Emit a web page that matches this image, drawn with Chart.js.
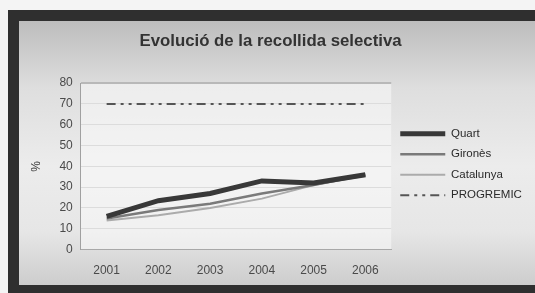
<!DOCTYPE html>
<html lang="ca">
<head>
  <meta charset="UTF-8">
  <title>Evolució de la recollida selectiva</title>
  <script src="https://cdn.jsdelivr.net/npm/chart.js"></script>
  <style>
    body {
      margin: 0;
      width: 535px;
      height: 293px;
      overflow: hidden;
      background: #f4f4f4;
      font-family: "Liberation Sans", Arial, sans-serif;
    }

    #frame {
      position: absolute;
      left: 8px;
      top: 10px;
      width: 600px;
      height: 300px;
      background: #2f2f2f;
    }

    #inner {
      position: absolute;
      left: 11px;
      top: 11px;
      width: 600px;
      height: 264px;
      background: linear-gradient(to bottom, #bdbdbd 0%, #dedede 25%, #ececec 55%, #e6e6e6 80%, #cdcdcd 100%);
      overflow: hidden;
    }

    #chart-box {
      position: absolute;
      left: 0;
      top: 0;
      width: 540px;
      height: 279px;
    }
  </style>
</head>
<body>
  <div id="frame">
    <div id="inner">
      <div id="chart-box">
        <canvas id="recollida"></canvas>
      </div>
    </div>
  </div>
  <script>
    const anys = ["2001", "2002", "2003", "2004", "2005", "2006"];
    const quart = [16, 23.5, 27, 33, 32, 36];
    const girones = [15, 19, 22, 27, 31, 36];
    const catalunya = [14, 16.5, 20, 24.5, 31, 35.5];
    const progremic = [70, 70, 70, 70, 70, 70];

    // fons una mica més clar dins l'àrea del gràfic
    const fonsArea = {
      id: "fonsArea",
      beforeDraw(chart) {
        const { ctx, chartArea } = chart;
        if (!chartArea) return;
        ctx.save();
        ctx.fillStyle = "rgba(250, 250, 250, 0.55)";
        ctx.fillRect(chartArea.left, chartArea.top, chartArea.right - chartArea.left, chartArea.bottom - chartArea.top);
        ctx.restore();
        // la llegenda retalla el text a la seva caixa: la deixem arribar fins a la vora
        if (chart.legend) {
          chart.legend.right = chart.width;
          chart.legend.width = chart.legend.right - chart.legend.left;
        }
      }
    };

    Chart.defaults.font.family = '"Liberation Sans", Arial, sans-serif';
    Chart.defaults.color = "#4a4a4a";

    new Chart(document.getElementById("recollida"), {
      type: "line",
      data: {
        labels: anys,
        datasets: [
          {
            label: "Quart",
            data: quart,
            borderColor: "#383838",
            backgroundColor: "#383838",
            borderWidth: 5,
            pointRadius: 0
          },
          {
            label: "Gironès",
            data: girones,
            borderColor: "#7a7a7a",
            backgroundColor: "#7a7a7a",
            borderWidth: 2.5,
            pointRadius: 0
          },
          {
            label: "Catalunya",
            data: catalunya,
            borderColor: "#ababab",
            backgroundColor: "#ababab",
            borderWidth: 2,
            pointRadius: 0
          },
          {
            label: "PROGREMIC",
            data: progremic,
            borderColor: "#555555",
            backgroundColor: "#555555",
            borderWidth: 2,
            borderDash: [9, 5, 3, 5, 3, 5],
            pointRadius: 0
          }
        ]
      },
      options: {
        responsive: true,
        maintainAspectRatio: false,
        animation: false,
        layout: {
          padding: { left: 10, right: 47, top: 0, bottom: 8 }
        },
        plugins: {
          title: {
            display: true,
            text: "Evolució de la recollida selectiva",
            color: "#333333",
            font: { size: 16.8, weight: "bold" },
            padding: { top: 10, bottom: 32 }
          },
          legend: {
            position: "right",
            title: { display: true, text: " ", padding: 2, font: { size: 10 } },
            labels: {
              usePointStyle: true,
              pointStyle: "line",
              pointStyleWidth: 45,
              color: "#2a2a2a",
              font: { size: 11.5 },
              padding: 9,
              generateLabels: (chart) =>
                chart.data.datasets.map((ds, i) => ({
                  text: ds.label,
                  datasetIndex: i,
                  fillStyle: ds.borderColor,
                  strokeStyle: ds.borderColor,
                  fontColor: "#2a2a2a",
                  lineWidth: ds.borderWidth,
                  lineDash: ds.borderDash || [],
                  pointStyle: "line",
                  hidden: false
                }))
            }
          },
          tooltip: { enabled: false }
        },
        scales: {
          x: {
            offset: true,
            grid: { display: false, drawTicks: false },
            border: { color: "#a8a8a8", width: 1 },
            ticks: { font: { size: 12 }, color: "#4a4a4a", padding: 14 }
          },
          y: {
            min: 0,
            max: 80,
            grid: {
              drawTicks: false,
              color: (c) => (c.tick.value === 80 ? "#b8b8b8" : "#dcdcdc"),
              lineWidth: (c) => (c.tick.value === 80 ? 2 : 1)
            },
            border: { color: "#a0a0a0", width: 1 },
            ticks: { stepSize: 10, font: { size: 12 }, color: "#4a4a4a", padding: 8 },
            title: {
              display: true,
              text: "%",
              color: "#3a3a3a",
              font: { size: 12 },
              padding: { top: 0, bottom: 8 }
            }
          }
        }
      },
      plugins: [fonsArea]
    });
  </script>
</body>
</html>
